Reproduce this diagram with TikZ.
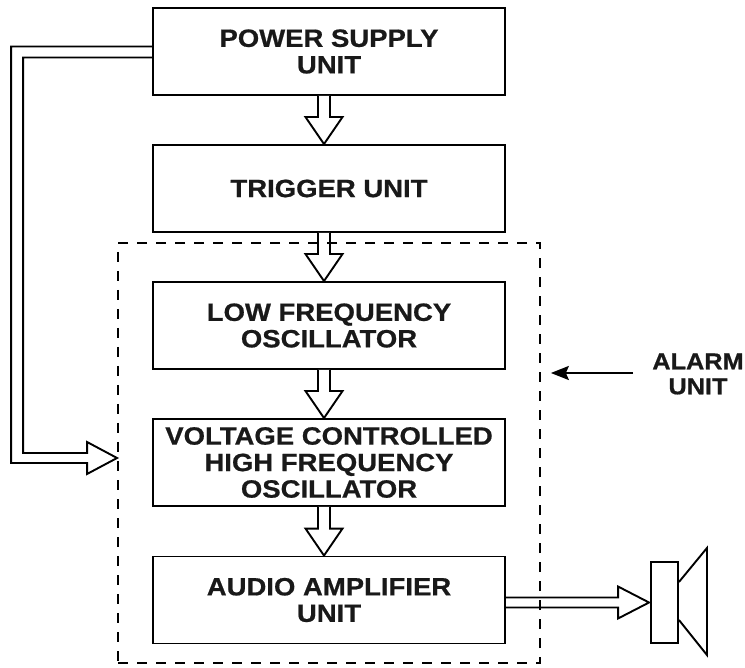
\documentclass[tikz,border=0pt]{standalone}
\usepackage{fontspec}
\newfontfamily\blockfont[FakeStretch=1.1,FakeBold=0.7]{Liberation Sans Bold}
\usetikzlibrary{calc,arrows.meta}
\begin{document}
\begin{tikzpicture}[x=1pt,y=-1pt,
  blockbox/.style={draw=black,line width=1.9pt,minimum width=352pt,minimum height=87pt,
    align=center,inner sep=0pt,font=\blockfont\fontsize{25}{26.5}\selectfont,text=black!90},
  hollow/.style={draw=black,line width=1.9pt,fill=white,line join=miter},
  zone/.style={draw=black,line width=1.7pt,dash pattern=on 10pt off 9pt},
  lbl/.style={font=\blockfont\fontsize{23}{25}\selectfont,align=center,inner sep=0pt,text=black!90}]
\useasboundingbox (0,0) rectangle (745,668);

% blocks
\node[blockbox] (psu) at (329,51.5) {POWER SUPPLY\\UNIT};
\node[blockbox] (trig) at (329,188.5) {TRIGGER UNIT};
\node[blockbox] (lfo) at (329,325.5) {LOW FREQUENCY\\OSCILLATOR};
\node[blockbox] (vco) at (329,462.5) {VOLTAGE CONTROLLED\\HIGH FREQUENCY\\OSCILLATOR};
\node[blockbox] (aud) at (329,600) {AUDIO AMPLIFIER\\UNIT};

% speaker
\node[draw=black,line width=1.9pt,minimum width=27pt,minimum height=81pt,inner sep=0pt] (spk) at (664.5,602.5) {};
\draw[line width=1.9pt,line join=miter] ($(spk.east)+(0,-20.5)$) -- ($(spk.east)+(28,-54.5)$)
  -- ($(spk.east)+(28,52.5)$) -- ($(spk.east)+(0,17.5)$);

% vertical hollow arrows
\foreach \s/\t in {psu/trig,trig/lfo,lfo/vco,vco/aud}{
  \draw[hollow] ($(\s.south)+(-11,0)$) -- ($(\t.north)+(-11,-27)$) -- ($(\t.north)+(-23.5,-27)$)
    -- ($(\t.north)+(-5,0)$) -- ($(\t.north)+(13.5,-27)$) -- ($(\t.north)+(1,-27)$) -- ($(\s.south)+(1,0)$);
}

% feedback arrow from power supply to alarm unit
\coordinate (fbtip) at ($(vco.west)+(-35,-4.5)$);
\draw[hollow,fill=none] ($(psu.west)+(0,-5)$) -| ($(fbtip)+(-106,5)$) -- ($(fbtip)+(-30,5)$)
  -- ($(fbtip)+(-30,16)$) -- (fbtip) -- ($(fbtip)+(-30,-16)$) -- ($(fbtip)+(-30,-5)$)
  -- ($(fbtip)+(-94,-5)$) |- ($(psu.west)+(0,6)$);

% output arrow to speaker
\draw[hollow,fill=none] ($(aud.east |- spk.west)+(0,-5)$) -- ($(spk.west)+(-32,-5)$) -- ($(spk.west)+(-32,-16)$)
  -- ($(spk.west)+(-1,0)$) -- ($(spk.west)+(-32,16)$) -- ($(spk.west)+(-32,5)$) -- ($(aud.east |- spk.west)+(0,5)$);

% alarm unit zone
\node[zone,minimum width=422pt,minimum height=420pt,inner sep=0pt] (zonebox) at (329,453) {};

% label
\node[lbl] (alarm) at (698,374) {ALARM\\UNIT};
\draw[line width=2pt,-{Stealth[length=18pt,width=14pt,inset=3pt]},shorten <=19pt,shorten >=10pt]
  (alarm.west |- 0,373) -- (zonebox.east |- 0,373);
\end{tikzpicture}
\end{document}
